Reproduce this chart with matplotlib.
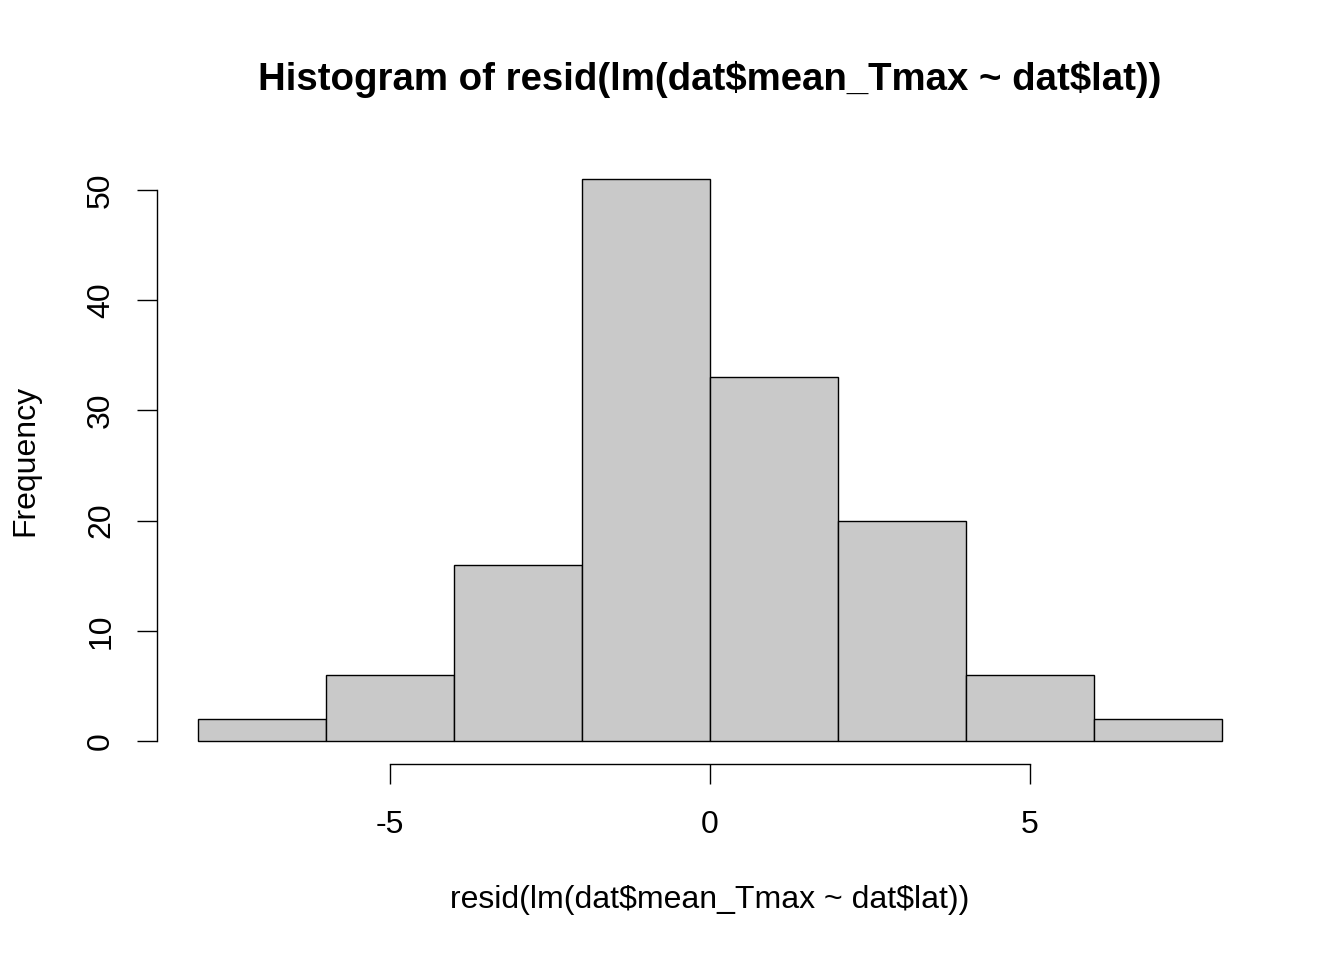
import numpy as np
import matplotlib as mpl
import matplotlib.pyplot as plt

mpl.rcParams['font.family'] = ['Liberation Sans', 'DejaVu Sans']

# histogram bins and counts
bin_edges = [-8, -6, -4, -2, 0, 2, 4, 6, 8]
counts = [2, 6, 16, 51, 33, 20, 6, 2]
x_ticks = [-5, 0, 5]
y_ticks = [0, 10, 20, 30, 40, 50]
title = r'Histogram of resid(lm(dat\$mean_Tmax ~ dat\$lat))'
xlab = r'resid(lm(dat\$mean_Tmax ~ dat\$lat))'

W, H = 1344, 960
fig = plt.figure(figsize=(W / 100, H / 100), dpi=100)
# plot region in pixels (R style, 4% axis extension)
ax = fig.add_axes([157 / W, (H - 763.5) / H, (1263 - 157) / W, (763.5 - 156.5) / H])

lefts = np.array(bin_edges[:-1])
ax.bar(lefts, counts, width=np.diff(bin_edges), align='edge',
       color='#c9c9c9', edgecolor='black', linewidth=1.0)

xr = bin_edges[-1] - bin_edges[0]
ax.set_xlim(bin_edges[0] - 0.04 * xr, bin_edges[-1] + 0.04 * xr)
ymax = max(counts)
ax.set_ylim(-0.04 * ymax, ymax * 1.04)

for s in ['top', 'right']:
    ax.spines[s].set_visible(False)
ax.spines['left'].set_bounds(y_ticks[0], y_ticks[-1])
ax.spines['bottom'].set_bounds(x_ticks[0], x_ticks[-1])
for s in ['left', 'bottom']:
    ax.spines[s].set_linewidth(1.0)

ax.set_xticks(x_ticks)
ax.set_yticks(y_ticks)
ax.set_xticklabels([str(v) for v in x_ticks])
ax.set_yticklabels([str(v) for v in y_ticks], rotation=90, va='center')
ax.tick_params(axis='both', direction='out', length=14.4, width=1.0, labelsize=23)
ax.tick_params(axis='x', pad=19)
ax.tick_params(axis='y', pad=15)

fig.text(710 / W, 1 - 80 / H, title,
         ha='center', va='center', fontsize=27.6, fontweight='bold')
fig.text(710 / W, 1 - 900 / H, xlab,
         ha='center', va='center', fontsize=23)
fig.text(25 / W, 1 - 460 / H, 'Frequency', ha='center', va='center',
         rotation=90, fontsize=23)

fig.savefig('out.png', dpi=100)
